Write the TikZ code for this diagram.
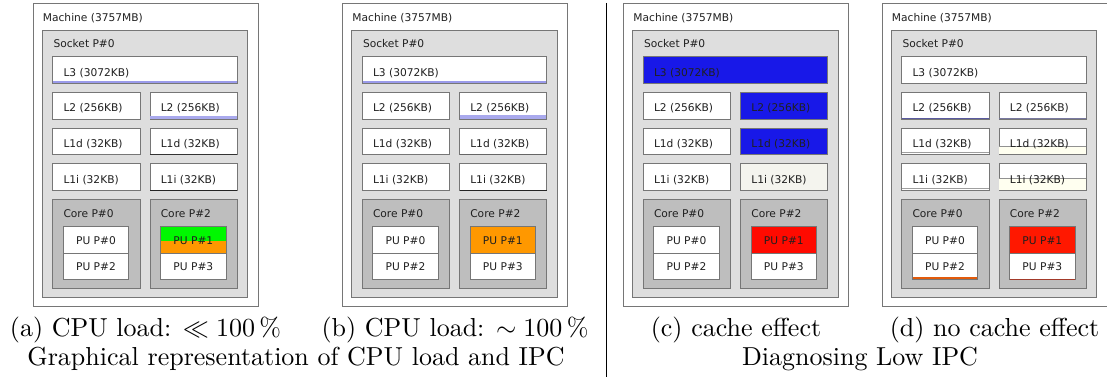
\documentclass[tikz,border=0pt]{standalone}
\usepackage{fontspec}
\newfontfamily\dvs{DejaVu Sans}
\definecolor{sockfill}{HTML}{DEDEDE}
\definecolor{corefill}{HTML}{BEBEBE}
\definecolor{bord}{HTML}{767676}
\definecolor{txt}{HTML}{202020}
\definecolor{lav}{HTML}{9A9AEA}
\definecolor{cblue}{HTML}{1818E8}
\definecolor{cgreen}{HTML}{00F800}
\definecolor{corange}{HTML}{FF9800}
\definecolor{cred}{HTML}{FF0A00}
\definecolor{cred2}{HTML}{FF1800}
\definecolor{pale}{HTML}{F4F4EE}
\definecolor{ivory}{HTML}{FFFFF0}
\definecolor{slate}{HTML}{5A5AA0}
\definecolor{slate2}{HTML}{7878A0}
\definecolor{burnt}{HTML}{E25A0A}
\definecolor{darkred}{HTML}{A33A2A}
\tikzset{
  box/.style={draw=bord, line width=0.8pt},
  lbl/.style={font=\dvs\fontsize{10.66}{12}\selectfont, text=txt, inner sep=0pt, anchor=base west},
  pulbl/.style={font=\dvs\fontsize{10.66}{12}\selectfont, text=txt, inner sep=0pt, anchor=base},
  captxt/.style={scale=2.6, inner sep=0pt, anchor=base, font=\fontsize{10}{12}\selectfont},
}
% #1 x offset, #2 prefix, #3 L3 fill, #4 right L2 fill, #5 right L1d fill,
% #6 right L1i fill, #7 PU P#1 fill, #8 overlay code
\newcommand\hwpanel[8]{%
\begin{scope}[xshift=#1]
  \draw[box, fill=white] (0,3.3) rectangle (225.3,306);
  \draw[box, fill=sockfill] (9,30.7) rectangle (214.7,297);
  \draw[box, fill=#3] (19.7,56.7) rectangle (204.3,83.5);
  \draw[box, fill=white] (19.7,92.3) rectangle (107,119.1);
  \draw[box, fill=#4] (117,92.3) rectangle (204.3,119.1);
  \draw[box, fill=white] (19.7,128) rectangle (107,154.8);
  \draw[box, fill=#5] (117,128) rectangle (204.3,154.8);
  \draw[box, fill=white] (19.7,163.7) rectangle (107,190.5);
  \draw[box, fill=#6] (117,163.7) rectangle (204.3,190.5);
  \draw[box, fill=corefill] (19.7,199.3) rectangle (107,288.7);
  \draw[box, fill=corefill] (117,199.3) rectangle (204.3,288.7);
  \draw[box, fill=white] (30.3,226.7) rectangle (95.7,253.3);
  \draw[box, fill=white] (30.3,253.3) rectangle (95.7,279.5);
  \draw[box, fill=#7] (127.7,226.7) rectangle (193,253.3);
  \draw[box, fill=white] (127.7,253.3) rectangle (193,279.5);
  #8
  \node[lbl] (#2-mach) at (9.7,21.3) {Machine (3757MB)};
  \node[lbl] (#2-sock) at (20.3,48) {Socket P\#0};
  \node[lbl] (#2-l3) at (30.3,76.1) {L3 (3072KB)};
  \node[lbl] (#2-l2a) at (30.3,111.7) {L2 (256KB)};
  \node[lbl] (#2-l2b) at (127.6,111.7) {L2 (256KB)};
  \node[lbl] (#2-l1da) at (30.3,147.4) {L1d (32KB)};
  \node[lbl] (#2-l1db) at (127.6,147.4) {L1d (32KB)};
  \node[lbl] (#2-l1ia) at (30.3,183.1) {L1i (32KB)};
  \node[lbl] (#2-l1ib) at (127.6,183.1) {L1i (32KB)};
  \node[lbl] (#2-corea) at (30.3,217.5) {Core P\#0};
  \node[lbl] (#2-coreb) at (127.6,217.5) {Core P\#2};
  \node[pulbl] (#2-pu0) at (63,244) {PU P\#0};
  \node[pulbl] (#2-pu2) at (63,270.4) {PU P\#2};
  \node[pulbl] (#2-pu1) at (160.35,244) {PU P\#1};
  \node[pulbl] (#2-pu3) at (160.35,270.4) {PU P\#3};
\end{scope}}

\begin{document}
\begin{tikzpicture}[x=1pt, y=-1pt]
\useasboundingbox (0,0) rectangle (1107,377);

\hwpanel{33}{a}{white}{white}{white}{white}{white}{%
  \fill[lav] (20.1,81.2) rectangle (203.9,83.1);
  \fill[lav!85!white] (117.4,115.6) rectangle (203.9,118.7);
  \draw[black!80, line width=1.2pt] (117,154.4) -- (204.3,154.4);
  \draw[black!85, line width=1.1pt] (117,190.1) -- (204.3,190.1);
  \fill[cgreen] (128.1,227.1) rectangle (192.6,240.7);
  \fill[corange] (128.1,240.7) rectangle (192.6,252.9);
}

\hwpanel{342.5}{b}{white}{white}{white}{white}{corange}{%
  \fill[lav] (20.1,81.2) rectangle (203.9,83.1);
  \fill[lav!85!white] (117.4,115.4) rectangle (203.9,118.7);
  \draw[black!60, line width=1.4pt] (117,154.2) -- (204.3,154.2);
  \draw[black!85, line width=1.1pt] (117,190.1) -- (204.3,190.1);
}

\hwpanel{623.5}{c}{cblue}{cblue}{cblue}{pale}{cred}{}

\hwpanel{882}{d}{white}{white}{white}{white}{cred2}{%
  \draw[slate, line width=1.5pt] (19.7,118.4) -- (107,118.4);
  \draw[slate2, line width=1.2pt] (117,118.5) -- (204.3,118.5);
  \draw[bord!70, line width=0.6pt] (20.1,152.6) -- (106.6,152.6);
  \fill[ivory] (117.4,146.7) rectangle (203.9,154.4);
  \draw[bord!80, line width=0.6pt] (117.4,146.7) -- (203.9,146.7);
  \draw[bord!70, line width=0.6pt] (20.1,188.4) -- (106.6,188.4);
  \fill[ivory] (117.4,178.7) rectangle (203.9,190.1);
  \draw[bord!80, line width=0.6pt] (117.4,178.7) -- (203.9,178.7);
  \fill[burnt] (30.7,277.4) rectangle (95.3,279.3);
  \draw[darkred, line width=0.8pt] (127.7,279.1) -- (193,279.1);
}

\coordinate (dtop) at (606,3);
\coordinate (dbot) at (606,377);
\draw[line width=0.9pt] (dtop) -- (dbot);

\node[captxt] (capa) at (145.5,336.5) {(a) CPU load: $\ll 100\,\%$};
\node[captxt] (capb) at (455,336.5) {(b) CPU load: $\sim 100\,\%$};
\node[captxt] (capc) at (736,336.5) {(c) cache effect};
\node[captxt] (capd) at (994.5,336.5) {(d) no cache effect};
\node[captxt] (capl) at (296,365) {Graphical representation of CPU load and IPC};
\node[captxt] (capr) at (860,365) {Diagnosing Low IPC};
\end{tikzpicture}
\end{document}
